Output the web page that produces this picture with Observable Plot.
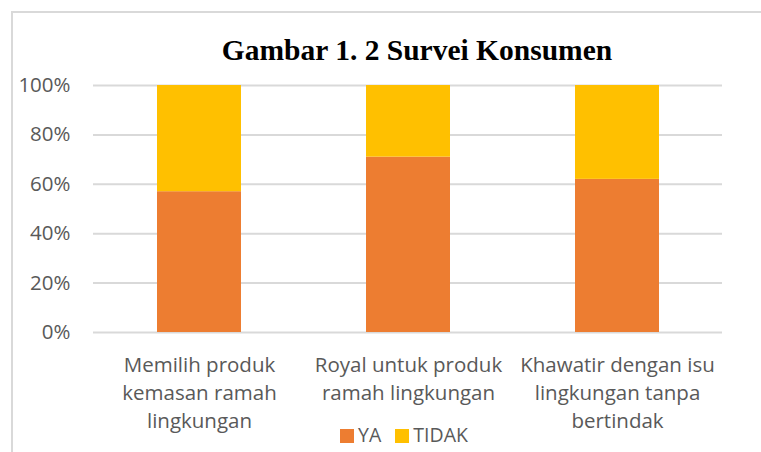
<!DOCTYPE html>
<html>
<head>
<meta charset="utf-8">
<script src="https://cdn.jsdelivr.net/npm/d3@7"></script>
<script src="https://cdn.jsdelivr.net/npm/@observablehq/plot@0.6"></script>
<style>
  html, body { margin: 0; padding: 0; background: #fff; }
  #wrap { position: relative; width: 761px; height: 452px; overflow: hidden; background: #fff; }
  #frame { position: absolute; left: 11px; top: 11px; width: 900px; height: 600px; border: 2px solid #d9d9d9; box-sizing: border-box; }
  #title { position: absolute; left: 0; width: 834px; top: 36px; text-align: center;
           font-family: "Liberation Serif", "Times New Roman", serif; font-weight: bold; font-size: 29.5px; color: #000; line-height: 1; }
  #legend { position: absolute; top: 423px; left: 0; width: 808px; text-align: center;
            font-family: "Open Sans", sans-serif; font-size: 19.5px; color: #595959; line-height: 1.2; }
  #legend span.sw { display: inline-block; width: 14px; height: 14px; margin-right: 4px; vertical-align: -1px; }
  #legend span.item { margin: 0 7px; }
  #chart { position: absolute; left: 0; top: 0; }
</style>
</head>
<body>
<div id="wrap">
  <div id="frame"></div>
  <div id="chart"></div>
  <div id="title"></div>
  <div id="legend"></div>
</div>
<script>
const titleText = "Gambar 1. 2 Survei Konsumen";
const categories = [
  "Memilih produk\nkemasan ramah\nlingkungan",
  "Royal untuk produk\nramah lingkungan",
  "Khawatir dengan isu\nlingkungan tanpa\nbertindak"
];
const seriesNames = ["YA", "TIDAK"];
const seriesColors = ["#ED7D31", "#FFC000"];
const yaValues = [57, 71, 62];
const tidakValues = [43, 29, 38];
const yTicks = [0, 20, 40, 60, 80, 100];

const rows = [];
categories.forEach((c, i) => rows.push({cat: c, series: seriesNames[0], value: yaValues[i]}));
categories.forEach((c, i) => rows.push({cat: c, series: seriesNames[1], value: tidakValues[i]}));

const chart = Plot.plot({
  width: 761,
  height: 452,
  marginTop: 85,
  marginBottom: 120,
  marginLeft: 93,
  marginRight: 39,
  style: { fontFamily: "'Open Sans', sans-serif", background: "transparent" },
  x: { domain: categories, paddingInner: 0.6, paddingOuter: 0.3, label: null },
  y: { domain: [0, 100], label: null },
  color: { domain: seriesNames, range: seriesColors },
  marks: [
    Plot.gridY(yTicks, { stroke: "#d9d9d9", strokeOpacity: 1, strokeWidth: 2 }),
    Plot.barY(rows, Plot.stackY({ x: "cat", y: "value", fill: "series", order: seriesNames })),
    Plot.axisY(yTicks, { tickSize: 0, tickPadding: 23, tickFormat: d => d + "%", fontSize: 20.5, fill: "#595959", label: null }),
    Plot.axisX({ tickSize: 0, tickPadding: 19, fontSize: 20.5, fill: "#595959", lineHeight: 1.38, label: null })
  ]
});
document.getElementById("chart").appendChild(chart);

document.getElementById("title").textContent = titleText;
const legend = document.getElementById("legend");
seriesNames.forEach((s, i) => {
  const item = document.createElement("span");
  item.className = "item";
  const sw = document.createElement("span");
  sw.className = "sw";
  sw.style.background = seriesColors[i];
  item.appendChild(sw);
  item.appendChild(document.createTextNode(s));
  legend.appendChild(item);
});
</script>
</body>
</html>
